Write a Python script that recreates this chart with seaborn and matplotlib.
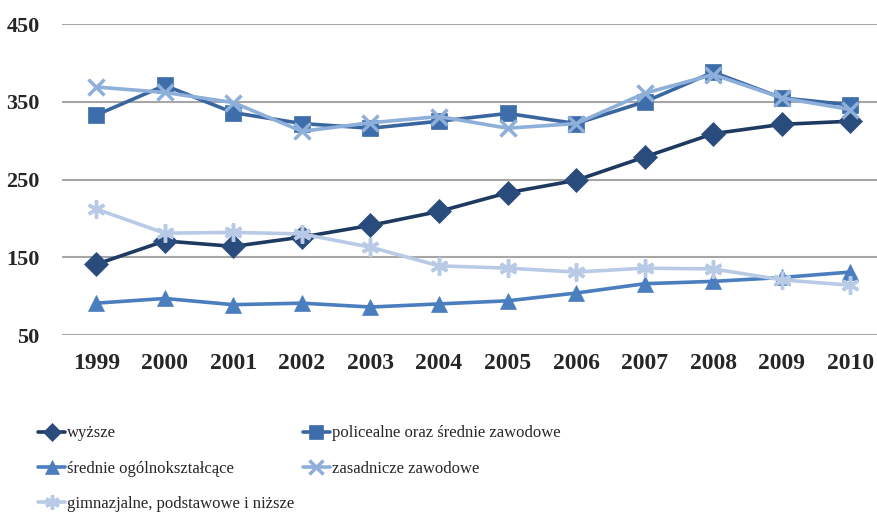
import matplotlib
matplotlib.use("Agg")
import matplotlib.pyplot as plt
import seaborn as sns
import pandas as pd

years = ["1999", "2000", "2001", "2002", "2003", "2004", "2005", "2006", "2007", "2008", "2009", "2010"]

wyzsze = [141, 171, 164, 176, 191, 209, 233, 249, 279, 309, 321, 325]
policealne = [333, 371, 336, 322, 316, 325, 335, 322, 350, 388, 355, 346]
srednie_ogolne = [91, 97, 89, 91, 86, 90, 94, 104, 116, 119, 124, 131]
zasadnicze = [369, 362, 349, 312, 323, 331, 316, 322, 361, 385, 355, 340]
gimnazjalne = [212, 181, 182, 180, 163, 139, 136, 131, 136, 135, 121, 114]

labels = ["wyższe", "policealne oraz średnie zawodowe", "średnie ogólnokształcące",
          "zasadnicze zawodowe", "gimnazjalne, podstawowe i niższe"]
series = [wyzsze, policealne, srednie_ogolne, zasadnicze, gimnazjalne]
colors = ["#2A4C7C", "#3D6DAA", "#4A7EBE", "#8EAFDA", "#B8CAE6"]
line_colors = ["#1F3A60", "#3A66A0", "#4A7EBE", "#8EAFDA", "#B8CAE6"]
markers = ["D", "s", "^", "x", (6, 2, 0)]
msizes = [12, 12, 12, 12, 13]

sns.set_style("white")
plt.rcParams['font.family'] = ['Liberation Serif', 'DejaVu Serif']

fig = plt.figure(figsize=(8.78, 5.17), dpi=100)
ax = fig.add_axes([0.0706, 0.352, 0.937, 0.6015])

for vals, lab, c, lc, m, ms in zip(series, labels, colors, line_colors, markers, msizes):
    df = pd.DataFrame({"rok": years, "v": vals})
    sns.lineplot(data=df, x="rok", y="v", ax=ax, color=lc, linewidth=2.6,
                 marker=m, markersize=ms, markerfacecolor=c, markeredgecolor=c,
                 markeredgewidth=2.5 if m in ("x", (6, 2, 0)) else 0.5, label=lab, sort=False)

h, l = ax.get_legend_handles_labels()
ax.get_legend().remove()

ax.set_xlim(-0.5, 11.5)
ax.set_ylim(50, 450)
ax.set_yticks([50, 150, 250, 350, 450])
ax.yaxis.grid(True, color="#A6A6A6", linewidth=1.5)
ax.set_axisbelow(True)
for s in ax.spines.values():
    s.set_visible(False)
ax.tick_params(axis="both", length=0, labelsize=17)
ax.tick_params(axis="x", pad=13)
ax.tick_params(axis="y", pad=16, labelsize=16)
for t in ax.get_xticklabels() + ax.get_yticklabels():
    t.set_fontweight("bold")
ax.set_xlabel("")
ax.set_ylabel("")

order = [0, 2, 4, 1, 3]
fig.legend([h[i] for i in order], [l[i] for i in order], ncol=2,
           loc="upper left", bbox_to_anchor=(0.036, 0.19), frameon=False,
           fontsize=12, handlelength=1.6, handletextpad=0.15, markerscale=0.8,
           columnspacing=0.5, labelspacing=1.15, borderaxespad=0)

fig.savefig("out.png", dpi=100)
